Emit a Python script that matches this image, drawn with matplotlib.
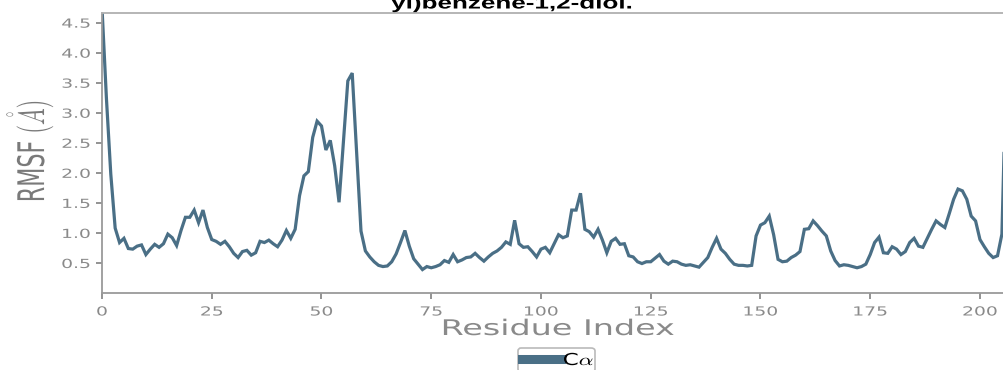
import numpy as np
import matplotlib
matplotlib.use("Agg")
import matplotlib.pyplot as plt
from matplotlib.lines import Line2D
from matplotlib.patheffects import AbstractPathEffect
from matplotlib.transforms import Affine2D

# C-alpha RMSF per residue
rmsf = [
    4.75, 3.25, 1.98, 1.08, 0.84, 0.91, 0.74, 0.73, 0.78, 0.80,
    0.64, 0.73, 0.81, 0.76, 0.82, 0.98, 0.92, 0.79, 1.04, 1.26,
    1.26, 1.38, 1.17, 1.38, 1.09, 0.89, 0.86, 0.81, 0.86, 0.77,
    0.66, 0.59, 0.69, 0.71, 0.63, 0.67, 0.86, 0.84, 0.88, 0.82,
    0.77, 0.88, 1.04, 0.91, 1.06, 1.62, 1.95, 2.02, 2.59, 2.86,
    2.78, 2.38, 2.54, 2.12, 1.51, 2.52, 3.53, 3.66, 2.35, 1.03,
    0.70, 0.60, 0.52, 0.46, 0.44, 0.45, 0.52, 0.65, 0.84, 1.04,
    0.78, 0.57, 0.48, 0.39, 0.44, 0.42, 0.44, 0.47, 0.54, 0.51,
    0.64, 0.52, 0.55, 0.59, 0.60, 0.66, 0.59, 0.53, 0.60, 0.66,
    0.70, 0.76, 0.85, 0.81, 1.21, 0.82, 0.76, 0.77, 0.69, 0.60,
    0.73, 0.76, 0.67, 0.82, 0.97, 0.92, 0.95, 1.38, 1.38, 1.66,
    1.06, 1.02, 0.93, 1.06, 0.88, 0.67, 0.86, 0.91, 0.81, 0.82,
    0.62, 0.60, 0.52, 0.49, 0.52, 0.52, 0.58, 0.64, 0.53, 0.48,
    0.53, 0.52, 0.48, 0.46, 0.47, 0.45, 0.43, 0.51, 0.59, 0.76,
    0.91, 0.73, 0.66, 0.56, 0.48, 0.46, 0.46, 0.45, 0.46, 0.95,
    1.13, 1.17, 1.28, 0.97, 0.56, 0.52, 0.53, 0.59, 0.63, 0.69,
    1.06, 1.07, 1.20, 1.12, 1.03, 0.95, 0.70, 0.54, 0.45, 0.47,
    0.46, 0.44, 0.42, 0.44, 0.48, 0.64, 0.84, 0.93, 0.67, 0.66,
    0.77, 0.73, 0.64, 0.69, 0.84, 0.91, 0.78, 0.76, 0.91, 1.06,
    1.20, 1.14, 1.09, 1.32, 1.56, 1.73, 1.70, 1.56, 1.28, 1.20,
    0.89, 0.77, 0.66, 0.59, 0.62, 0.98, 3.80,
]
x_ticks = [0, 25, 50, 75, 100, 125, 150, 175, 200]
y_ticks = [0.5, 1.0, 1.5, 2.0, 2.5, 3.0, 3.5, 4.0, 4.5]
title_tail = "yl)benzene-1,2-diol."
legend_label = r"C$\alpha$"

LINE_COLOR = "#4a6f86"
GREY = "#8a8a8a"
W, H = 1004, 370


class Stretch(AbstractPathEffect):
    """Widens glyphs along the screen x axis (source image was stretched)."""

    def __init__(self, sx):
        super().__init__()
        self.sx = sx

    def draw_path(self, renderer, gc, tpath, affine, rgbFace=None):
        m = affine.get_matrix()
        ext = tpath.get_extents()
        if abs(m[0, 0]) >= abs(m[0, 1]):
            c = (ext.x0 + ext.x1) / 2
            pre = Affine2D().translate(-c, 0).scale(self.sx, 1).translate(c, 0)
        else:
            c = (ext.y0 + ext.y1) / 2
            pre = Affine2D().translate(0, -c).scale(1, self.sx).translate(0, c)
        renderer.draw_path(gc, tpath, pre + affine, rgbFace)


plt.rcParams["mathtext.fontset"] = "cm"
plt.rcParams["font.family"] = "DejaVu Sans"

fig = plt.figure(figsize=(W / 100, H / 100), dpi=100)
x_left, x_right = 102, 1006.3
y_top, y_bot = 13, 293
ax = fig.add_axes([x_left / W, 1 - y_bot / H, (x_right - x_left) / W, (y_bot - y_top) / H])

residues = np.arange(len(rmsf))
ax.plot(residues, rmsf, color=LINE_COLOR, linewidth=2.3, solid_joinstyle="miter")
ax.set_xlim(0, 206)
ax.set_ylim(0, 4.66)

ax.set_xticks(x_ticks)
ax.set_yticks(y_ticks)
ax.set_xticklabels([str(t) for t in x_ticks])
ax.set_yticklabels([f"{t:.1f}" for t in y_ticks])
ax.tick_params(axis="both", colors=GREY, labelsize=9, length=4, width=1.3, direction="out")
ax.tick_params(axis="x", pad=5)
ax.tick_params(axis="y", pad=7.5)
for lab in ax.get_xticklabels() + ax.get_yticklabels():
    lab.set_path_effects([Stretch(1.5)])

for name, sp in ax.spines.items():
    sp.set_color("#9a9a9a")
    sp.set_linewidth(1.3)
ax.spines["top"].set_color("#b0b0b0")

xl = ax.set_xlabel("Residue Index", fontsize=15.5, color=GREY, va="top")
ax.xaxis.set_label_coords((558 - x_left) / (x_right - x_left), (y_bot - 319) / (y_bot - y_top))
xl.set_path_effects([Stretch(1.55)])

yl = ax.set_ylabel(r"RMSF $(\mathring{A})$", fontsize=16, color="#7a7a7a", va="center", ha="center")
ax.yaxis.set_label_coords((30 - x_left) / (x_right - x_left), (y_bot - 151) / (y_bot - y_top))
yl.set_path_effects([Stretch(1.65)])

# only the last line of the title survives the crop
tt = fig.text(512 / W, 1 - 8.5 / H, title_tail, ha="center", va="baseline",
              fontsize=12.5, fontweight="bold", family="Liberation Sans")
tt.set_path_effects([Stretch(1.5)])

handle = Line2D([], [], color=LINE_COLOR, linewidth=6.5)
leg = fig.legend([handle], [legend_label], loc="upper left",
                 bbox_to_anchor=(518 / W, 1 - 348 / H), borderaxespad=0,
                 fontsize=11.8, frameon=True, fancybox=True, borderpad=0.25,
                 handlelength=2.4, handletextpad=0.35)
leg.get_frame().set_edgecolor("#a8a8a8")
leg.get_frame().set_linewidth(1.2)
for t in leg.get_texts():
    t.set_path_effects([Stretch(1.4)])

fig.savefig("out.png", dpi=100, facecolor="white")
